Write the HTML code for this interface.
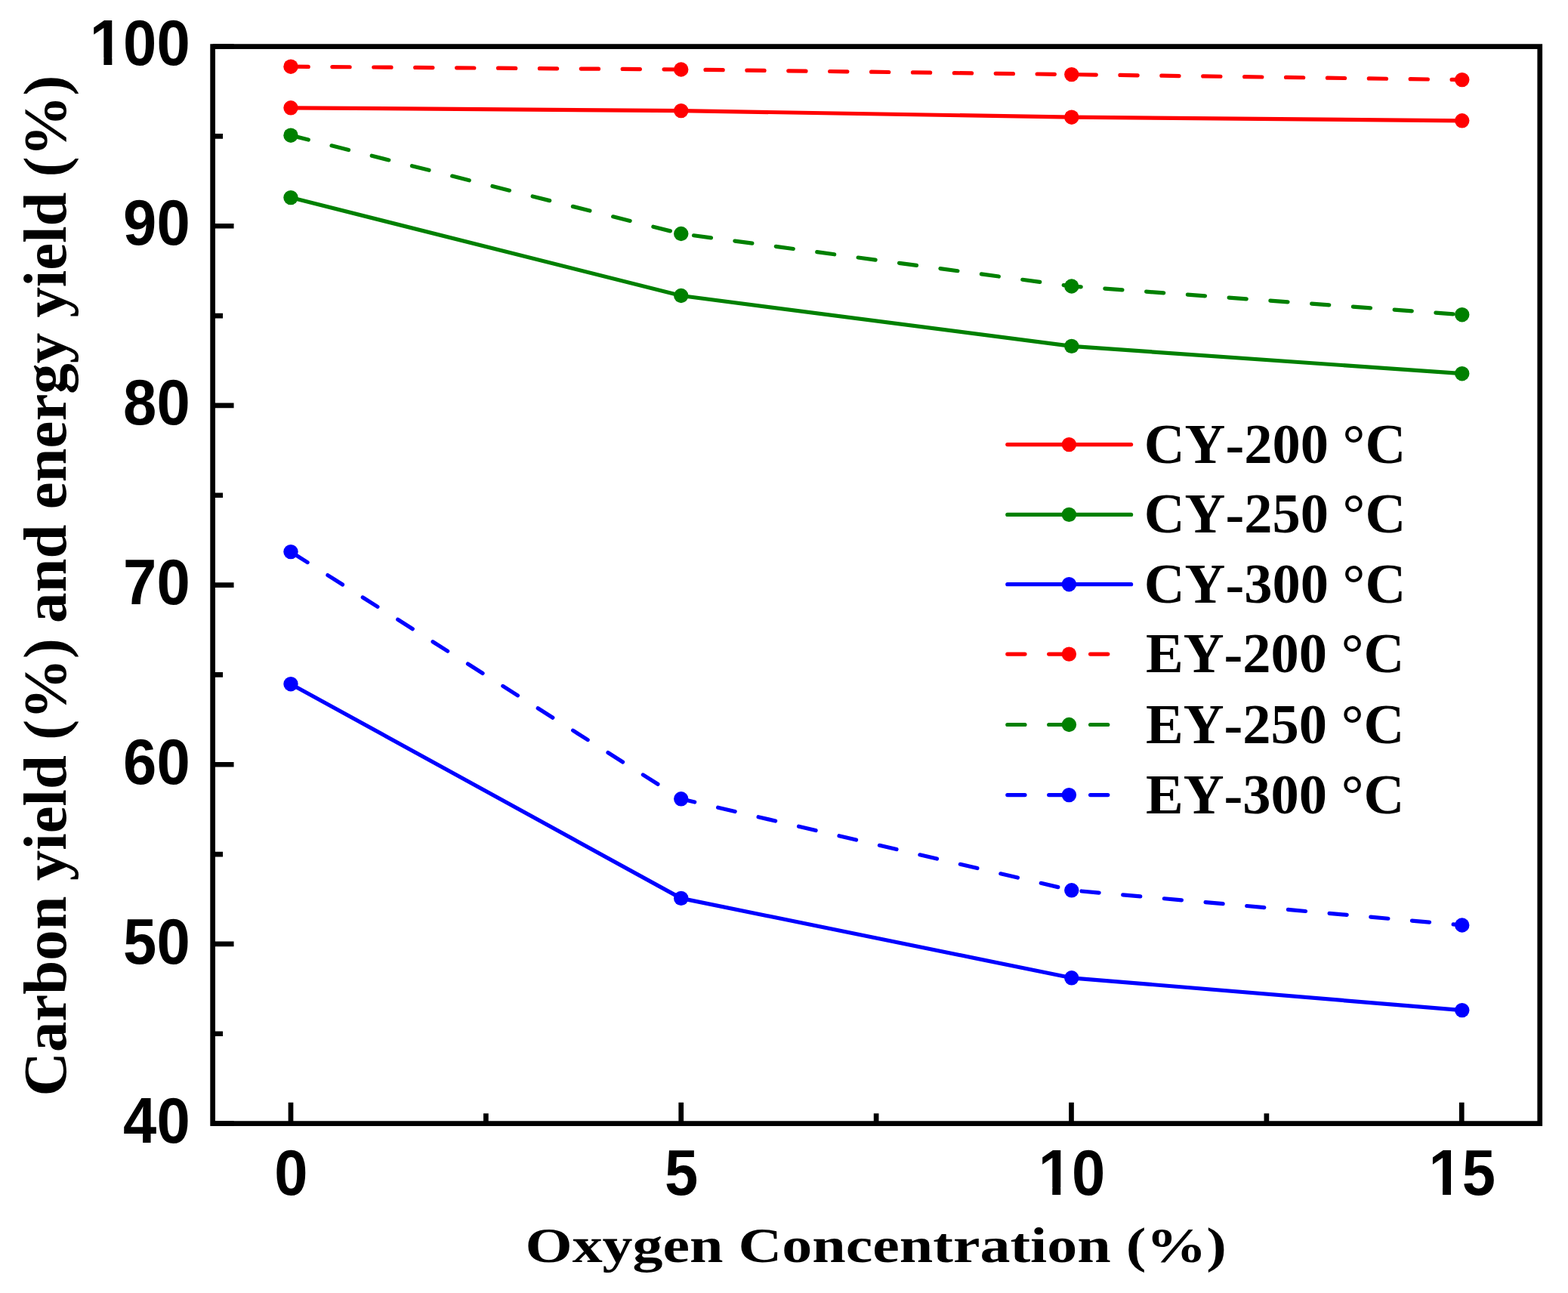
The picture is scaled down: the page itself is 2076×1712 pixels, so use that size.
<!DOCTYPE html>
<html><head><meta charset="utf-8"><title>Carbon yield and energy yield vs oxygen concentration</title>
<style>html,body{margin:0;padding:0;background:#fff;overflow:hidden}svg{display:block}text{font-kerning:none;font-feature-settings:'kern' 0}</style>
</head><body>
<svg width="2076" height="1712" viewBox="0 0 2076 1712">
<rect x="0" y="0" width="2076" height="1712" fill="#ffffff"/>
<polyline points="385.00,88.20 901.75,92.00 1418.80,98.60 1935.75,105.60" fill="none" stroke="#ff0000" stroke-width="5.2" stroke-linecap="round" stroke-linejoin="round" stroke-dasharray="23.2 31.7" stroke-dashoffset="0"/>
<circle cx="385.00" cy="88.20" r="9.7" fill="#ff0000"/>
<circle cx="901.75" cy="92.00" r="9.7" fill="#ff0000"/>
<circle cx="1418.80" cy="98.60" r="9.7" fill="#ff0000"/>
<circle cx="1935.75" cy="105.60" r="9.7" fill="#ff0000"/>
<polyline points="385.00,142.80 901.75,146.60 1418.80,155.20 1935.75,159.80" fill="none" stroke="#ff0000" stroke-width="5.2" stroke-linecap="round" stroke-linejoin="round"/>
<circle cx="385.00" cy="142.80" r="9.7" fill="#ff0000"/>
<circle cx="901.75" cy="146.60" r="9.7" fill="#ff0000"/>
<circle cx="1418.80" cy="155.20" r="9.7" fill="#ff0000"/>
<circle cx="1935.75" cy="159.80" r="9.7" fill="#ff0000"/>
<polyline points="385.00,179.20 901.75,309.50 1418.80,379.00 1935.75,416.70" fill="none" stroke="#008000" stroke-width="5.2" stroke-linecap="round" stroke-linejoin="round" stroke-dasharray="23.2 31.7" stroke-dashoffset="-0.8"/>
<circle cx="385.00" cy="179.20" r="9.7" fill="#008000"/>
<circle cx="901.75" cy="309.50" r="9.7" fill="#008000"/>
<circle cx="1418.80" cy="379.00" r="9.7" fill="#008000"/>
<circle cx="1935.75" cy="416.70" r="9.7" fill="#008000"/>
<polyline points="385.00,261.60 901.75,391.50 1418.80,458.40 1935.75,494.70" fill="none" stroke="#008000" stroke-width="5.2" stroke-linecap="round" stroke-linejoin="round"/>
<circle cx="385.00" cy="261.60" r="9.7" fill="#008000"/>
<circle cx="901.75" cy="391.50" r="9.7" fill="#008000"/>
<circle cx="1418.80" cy="458.40" r="9.7" fill="#008000"/>
<circle cx="1935.75" cy="494.70" r="9.7" fill="#008000"/>
<polyline points="385.00,730.60 901.75,1057.80 1418.80,1178.80 1935.75,1225.00" fill="none" stroke="#0000ff" stroke-width="5.2" stroke-linecap="round" stroke-linejoin="round" stroke-dasharray="23.2 31.7" stroke-dashoffset="-3.0"/>
<circle cx="385.00" cy="730.60" r="9.7" fill="#0000ff"/>
<circle cx="901.75" cy="1057.80" r="9.7" fill="#0000ff"/>
<circle cx="1418.80" cy="1178.80" r="9.7" fill="#0000ff"/>
<circle cx="1935.75" cy="1225.00" r="9.7" fill="#0000ff"/>
<polyline points="385.00,905.70 901.75,1189.40 1418.80,1294.80 1935.75,1337.60" fill="none" stroke="#0000ff" stroke-width="5.2" stroke-linecap="round" stroke-linejoin="round"/>
<circle cx="385.00" cy="905.70" r="9.7" fill="#0000ff"/>
<circle cx="901.75" cy="1189.40" r="9.7" fill="#0000ff"/>
<circle cx="1418.80" cy="1294.80" r="9.7" fill="#0000ff"/>
<circle cx="1935.75" cy="1337.60" r="9.7" fill="#0000ff"/>
<rect x="281.65" y="61.6" width="1757.10" height="1426.00" fill="none" stroke="#000" stroke-width="6.7"/>
<path d="M281.65,1487.60H309.55M281.65,1249.93H309.55M281.65,1012.27H309.55M281.65,774.60H309.55M281.65,536.93H309.55M281.65,299.27H309.55M281.65,61.60H309.55M281.65,1368.77H295.05M281.65,1131.10H295.05M281.65,893.43H295.05M281.65,655.77H295.05M281.65,418.10H295.05M281.65,180.43H295.05M385.00,1487.6V1459.70M901.75,1487.6V1459.70M1418.50,1487.6V1459.70M1935.25,1487.6V1459.70M643.38,1487.6V1474.20M1160.12,1487.6V1474.20M1676.88,1487.6V1474.20" stroke="#000" stroke-width="6.7" fill="none"/>
<text transform="translate(251.7,1513.29) scale(0.937,1)" font-family="'Liberation Sans', sans-serif" font-weight="bold" font-size="85.0" text-anchor="end">40</text>
<text transform="translate(251.7,1276.32) scale(0.937,1)" font-family="'Liberation Sans', sans-serif" font-weight="bold" font-size="85.0" text-anchor="end">50</text>
<text transform="translate(251.7,1038.16) scale(0.937,1)" font-family="'Liberation Sans', sans-serif" font-weight="bold" font-size="85.0" text-anchor="end">60</text>
<text transform="translate(251.7,800.19) scale(0.937,1)" font-family="'Liberation Sans', sans-serif" font-weight="bold" font-size="85.0" text-anchor="end">70</text>
<text transform="translate(251.7,562.32) scale(0.937,1)" font-family="'Liberation Sans', sans-serif" font-weight="bold" font-size="85.0" text-anchor="end">80</text>
<text transform="translate(251.7,324.16) scale(0.937,1)" font-family="'Liberation Sans', sans-serif" font-weight="bold" font-size="85.0" text-anchor="end">90</text>
<text transform="translate(251.7,85.89) scale(0.937,1)" font-family="'Liberation Sans', sans-serif" font-weight="bold" font-size="85.0" text-anchor="end">100</text>
<rect x="122.70" y="76.42" width="14.70" height="10.27" fill="#fff"/>
<rect x="148.33" y="76.42" width="13.84" height="10.27" fill="#fff"/>
<text transform="translate(385.50,1581.6) scale(0.937,1)" font-family="'Liberation Sans', sans-serif" font-weight="bold" font-size="85.0" text-anchor="middle">0</text>
<text transform="translate(902.25,1581.6) scale(0.937,1)" font-family="'Liberation Sans', sans-serif" font-weight="bold" font-size="85.0" text-anchor="middle">5</text>
<text transform="translate(1419.00,1581.6) scale(0.937,1)" font-family="'Liberation Sans', sans-serif" font-weight="bold" font-size="85.0" text-anchor="middle">10</text>
<rect x="1378.59" y="1572.13" width="14.70" height="10.27" fill="#fff"/>
<rect x="1404.22" y="1572.13" width="13.84" height="10.27" fill="#fff"/>
<text transform="translate(1935.75,1581.6) scale(0.937,1)" font-family="'Liberation Sans', sans-serif" font-weight="bold" font-size="85.0" text-anchor="middle">15</text>
<rect x="1895.34" y="1572.13" width="14.70" height="10.27" fill="#fff"/>
<rect x="1920.97" y="1572.13" width="13.84" height="10.27" fill="#fff"/>
<path d="M1333.8,588.6H1497.6" stroke="#ff0000" stroke-width="5.2" stroke-linecap="round" fill="none"/>
<circle cx="1415.4" cy="588.6" r="9.7" fill="#ff0000"/>
<text x="1514.8" y="612.6" font-family="'Liberation Serif', serif" font-weight="bold" font-size="74.5">CY-200 °C</text>
<path d="M1333.8,681.4H1497.6" stroke="#008000" stroke-width="5.2" stroke-linecap="round" fill="none"/>
<circle cx="1415.4" cy="681.4" r="9.7" fill="#008000"/>
<text x="1514.8" y="705.4" font-family="'Liberation Serif', serif" font-weight="bold" font-size="74.5">CY-250 °C</text>
<path d="M1333.8,773.7H1497.6" stroke="#0000ff" stroke-width="5.2" stroke-linecap="round" fill="none"/>
<circle cx="1415.4" cy="773.7" r="9.7" fill="#0000ff"/>
<text x="1514.8" y="797.7" font-family="'Liberation Serif', serif" font-weight="bold" font-size="74.5">CY-300 °C</text>
<path d="M1333.8,866.1H1497.6" stroke="#ff0000" stroke-width="5.2" stroke-linecap="round" fill="none" stroke-dasharray="23.2 31.7"/>
<circle cx="1415.4" cy="866.1" r="9.7" fill="#ff0000"/>
<text x="1517.0" y="890.1" font-family="'Liberation Serif', serif" font-weight="bold" font-size="74.5">EY-200 °C</text>
<path d="M1333.8,959.5H1497.6" stroke="#008000" stroke-width="5.2" stroke-linecap="round" fill="none" stroke-dasharray="23.2 31.7"/>
<circle cx="1415.4" cy="959.5" r="9.7" fill="#008000"/>
<text x="1517.0" y="983.5" font-family="'Liberation Serif', serif" font-weight="bold" font-size="74.5">EY-250 °C</text>
<path d="M1333.8,1052.6H1497.6" stroke="#0000ff" stroke-width="5.2" stroke-linecap="round" fill="none" stroke-dasharray="23.2 31.7"/>
<circle cx="1415.4" cy="1052.6" r="9.7" fill="#0000ff"/>
<text x="1517.0" y="1076.6" font-family="'Liberation Serif', serif" font-weight="bold" font-size="74.5">EY-300 °C</text>
<text x="0" y="0" transform="translate(1159.7,1670.9) scale(1,0.81)" font-family="'Liberation Serif', serif" font-weight="bold" font-size="80" text-anchor="middle">Oxygen Concentration (%)</text>
<text x="0" y="0" transform="translate(86.7,775.5) rotate(-90) scale(1.0108,1)" font-family="'Liberation Serif', serif" font-weight="bold" font-size="80" text-anchor="middle">Carbon yield (%) and energy yield (%)</text>
</svg>
</body></html>
